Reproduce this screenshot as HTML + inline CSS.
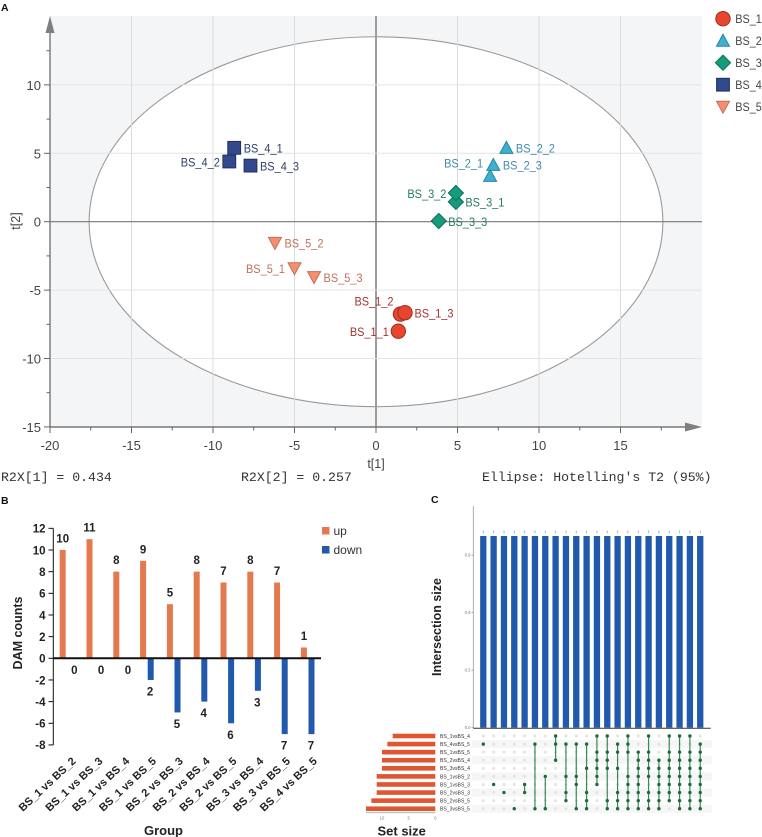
<!DOCTYPE html>
<html lang="en">
<head>
<meta charset="utf-8">
<title>PCA score plot, DAM counts and UpSet plot</title>
<style>
html,body{margin:0;padding:0;background:#fff;}
body{width:762px;height:837px;overflow:hidden;}
svg{display:block;font-family:"Liberation Sans",sans-serif;}
</style>
</head>
<body>
<svg id="figure" xmlns="http://www.w3.org/2000/svg" width="762" height="837" viewBox="0 0 762 837">
  <rect width="762" height="837" fill="#fff"/>
  <g id="panelA"></g>
  <g id="panelB"></g>
  <g id="panelC"></g>
  <text x="1" y="11" font-size="10.5" font-weight="bold" fill="#111">A</text>
  <text x="1" y="504" font-size="10.5" font-weight="bold" fill="#111">B</text>
  <text x="431" y="503" font-size="10.5" font-weight="bold" fill="#111">C</text>
  <text x="1" y="481" font-size="13.2" font-family="'Liberation Mono',monospace" fill="#333">R2X[1] = 0.434</text>
  <text x="241" y="481" font-size="13.2" font-family="'Liberation Mono',monospace" fill="#333">R2X[2] = 0.257</text>
  <text x="482" y="481" font-size="13.2" font-family="'Liberation Mono',monospace" fill="#333">Ellipse: Hotelling's T2 (95%)</text>
</svg>
<script>
/* ---------- Panel A data ---------- */
const pcaGroups = ['BS_1', 'BS_2', 'BS_3', 'BS_4', 'BS_5'];
const pcaSamples = ['BS_1_1', 'BS_1_2', 'BS_1_3', 'BS_2_1', 'BS_2_2', 'BS_2_3', 'BS_3_1', 'BS_3_2', 'BS_3_3', 'BS_4_2', 'BS_4_1', 'BS_4_3', 'BS_5_1', 'BS_5_2', 'BS_5_3'];
const pcaSampleGroup = [0, 0, 0, 1, 1, 1, 2, 2, 2, 3, 3, 3, 4, 4, 4];
const pcaT1 = [1.37, 1.5, 1.78, 7.0, 8.0, 7.2, 4.9, 4.9, 3.85, -9.0, -8.7, -7.7, -5.0, -6.2, -3.8];
const pcaT2 = [-8.0, -6.75, -6.65, 3.35, 5.4, 4.15, 1.45, 2.1, 0.05, 4.4, 5.4, 4.1, -3.4, -1.55, -4.05];
const pcaLabelSide = ['left', 'upper-left', 'right', 'upper-left', 'right', 'right', 'right', 'left', 'right', 'left', 'right', 'right', 'left', 'right', 'right'];
const pcaXTicks = [-20, -15, -10, -5, 0, 5, 10, 15];
const pcaYTicks = [-15, -10, -5, 0, 5, 10];
const pcaXMinorTicks = [-17.5, -12.5, -7.5, -2.5, 2.5, 7.5, 12.5, 17.5];
const pcaYMinorTicks = [-12.5, -7.5, -2.5, 2.5, 7.5, 12.5];
const ellipseRadiusT1 = 17.6;
const ellipseRadiusT2 = 13.52;

/* ---------- Panel B data ---------- */
const damGroups = ['BS_1 vs BS_2', 'BS_1 vs BS_3', 'BS_1 vs BS_4', 'BS_1 vs BS_5', 'BS_2 vs BS_3', 'BS_2 vs BS_4', 'BS_2 vs BS_5', 'BS_3 vs BS_4', 'BS_3 vs BS_5', 'BS_4 vs BS_5'];
const damUp = [10, 11, 8, 9, 5, 8, 7, 8, 7, 1];
const damDown = [0, 0, 0, 2, 5, 4, 6, 3, 7, 7];
const damTicks = [12, 10, 8, 6, 4, 2, 0, -2, -4, -6, -8];

/* ---------- Panel C data ---------- */
const setNames = ['BS_1vsBS_4', 'BS_4vsBS_5', 'BS_1vsBS_5', 'BS_2vsBS_4', 'BS_3vsBS_4', 'BS_1vsBS_2', 'BS_1vsBS_3', 'BS_2vsBS_3', 'BS_2vsBS_5', 'BS_3vsBS_5'];
const setSizes = [8, 9, 10, 10, 10, 11, 11, 11, 12, 13];
const setTicks = [10, 5, 0];
const intersectionSizes = [1, 1, 1, 1, 1, 1, 1, 1, 1, 1, 1, 1, 1, 1, 1, 1, 1, 1, 1, 1, 1, 1];
const intersectionTicks = [0, 0.3, 0.6, 0.9];
const intersectionMembers = [
  [1], [6], [7], [9], [6, 7], [1, 9], [5, 9], [0, 1, 3],
  [1, 5, 7, 8], [1, 5, 6, 9], [1, 4, 7, 8, 9], [0, 2, 3, 4, 5, 6],
  [0, 2, 3, 4, 8, 9], [1, 2, 4, 7, 8, 9], [0, 1, 2, 5, 6, 7, 8, 9],
  [2, 3, 4, 5, 6, 7, 8, 9], [0, 2, 3, 4, 5, 7, 8, 9], [3, 4, 5, 6, 7, 8, 9],
  [0, 2, 3, 4, 5, 6, 7, 8], [0, 2, 3, 4, 5, 6, 7, 8, 9],
  [0, 2, 3, 4, 5, 6, 7, 8, 9], [1, 2, 3, 4, 5, 6, 7, 8, 9]
];

/* ---------- helpers ---------- */
const NS = 'http://www.w3.org/2000/svg';
function mk(parent, tag, attrs, text) {
  const node = document.createElementNS(NS, tag);
  for (const key in attrs) node.setAttribute(key, attrs[key]);
  if (text !== undefined) node.textContent = text;
  parent.appendChild(node);
  return node;
}
const panelA = document.getElementById('panelA');
const panelB = document.getElementById('panelB');
const panelC = document.getElementById('panelC');

/* ---------- Panel A ---------- */
const ax = v => 376 + 16.3 * v;
const ay = v => 221.7 - 13.68 * v;
const groupFill = ['#e8452f', '#3ab1cf', '#169b7c', '#33498c', '#f58f70'];
const groupStroke = ['#9c2f1f', '#2b84a3', '#0f6f58', '#1f2f66', '#c46d55'];
const groupText = ['#a5322c', '#3f8cab', '#1f7a60', '#2e3d6b', '#c2705a'];

function marker(parent, group, x, y) {
  const attrs = { fill: groupFill[group], stroke: groupStroke[group], 'stroke-width': 1 };
  if (group === 0) {
    attrs.cx = x; attrs.cy = y; attrs.r = 7.2;
    return mk(parent, 'circle', attrs);
  }
  if (group === 3) {
    attrs.x = x - 6.4; attrs.y = y - 6.4; attrs.width = 12.8; attrs.height = 12.8;
    return mk(parent, 'rect', attrs);
  }
  let points;
  if (group === 1) points = [[x, y - 6.5], [x + 6.5, y + 5.5], [x - 6.5, y + 5.5]];
  if (group === 2) points = [[x, y - 7.6], [x + 7.6, y], [x, y + 7.6], [x - 7.6, y]];
  if (group === 4) points = [[x - 6.5, y - 5.5], [x + 6.5, y - 5.5], [x, y + 6.5]];
  attrs.points = points.map(p => p.join(',')).join(' ');
  return mk(parent, 'polygon', attrs);
}

const plotBg = mk(panelA, 'rect', { x: 50, y: 16, width: 652, height: 411, fill: '#f4f5f7' });



const ellipse = mk(panelA, 'ellipse', { cx: ax(0), cy: ay(0), rx: ellipseRadiusT1 * 16.3, ry: ellipseRadiusT2 * 13.68, fill: '#fff', stroke: '#9a9a9a', 'stroke-width': 1.1 });



pcaXTicks.forEach(v => {
  if (v === -20) return;
  const zero = v === 0;
  const line = mk(panelA, 'line', { x1: ax(v), x2: ax(v), y1: 16, y2: 427, stroke: zero ? '#9d9d9d' : '#dcdcdc', 'stroke-width': zero ? 2 : 1 });
  
  
});
pcaYTicks.forEach(v => {
  if (v === -15) return;
  const zero = v === 0;
  const line = mk(panelA, 'line', { x1: 50, x2: 702, y1: ay(v), y2: ay(v), stroke: zero ? '#777' : '#e4e4e4', 'stroke-width': zero ? 1.2 : 1 });
  
  
});

const yAxisA = mk(panelA, 'line', { x1: 50, x2: 50, y1: 20, y2: 427, stroke: '#777', 'stroke-width': 1.4 });


const xAxisA = mk(panelA, 'line', { x1: 50, x2: 690, y1: 427, y2: 427, stroke: '#777', 'stroke-width': 1.4 });


const yArrow = mk(panelA, 'polygon', { points: '50,16 45.5,33 54.5,33', fill: '#7f7f7f' });


const xArrow = mk(panelA, 'polygon', { points: '702,427 685,422.5 685,431.5', fill: '#7f7f7f' });



pcaXTicks.forEach(v => {
  const tick = mk(panelA, 'line', { x1: ax(v), x2: ax(v), y1: 427, y2: 433, stroke: '#666', 'stroke-width': 1 });
  
  
  const label = mk(panelA, 'text', { x: ax(v), y: 450, 'text-anchor': 'middle', 'font-size': 13, fill: '#444' }, String(v));
  
  
});
pcaXMinorTicks.forEach(v => {
  const tick = mk(panelA, 'line', { x1: ax(v), x2: ax(v), y1: 427, y2: 430.5, stroke: '#666', 'stroke-width': 1 });
  
  
});
pcaYTicks.forEach(v => {
  const tick = mk(panelA, 'line', { x1: 44, x2: 50, y1: ay(v), y2: ay(v), stroke: '#666', 'stroke-width': 1 });
  
  
  const label = mk(panelA, 'text', { x: 41, y: ay(v) + 5, 'text-anchor': 'end', 'font-size': 13, fill: '#444' }, String(v));
  
  
});
pcaYMinorTicks.forEach(v => {
  const tick = mk(panelA, 'line', { x1: 46.5, x2: 50, y1: ay(v), y2: ay(v), stroke: '#666', 'stroke-width': 1 });
  
  
});

const t2Title = mk(panelA, 'text', { transform: 'translate(20,221) rotate(-90)', 'text-anchor': 'middle', 'font-size': 12.5, fill: '#444' }, 't[2]');


const t1Title = mk(panelA, 'text', { x: 376, y: 468, 'text-anchor': 'middle', 'font-size': 12.5, fill: '#444' }, 't[1]');



pcaSamples.forEach((name, i) => {
  const g = pcaSampleGroup[i];
  const px = ax(pcaT1[i]);
  const py = ay(pcaT2[i]);
  const mark = marker(panelA, g, px, py);
  
  
  const side = pcaLabelSide[i];
  const attrs = { 'font-size': 12, fill: groupText[g], textLength: 39, lengthAdjust: 'spacingAndGlyphs' };
  attrs.x = side === 'right' ? px + 9.5 : px - 48.5;
  attrs.y = py + 4.8;
  if (side === 'upper-left') { attrs.x = px - 46; attrs.y = py - 8.5; }
  const label = mk(panelA, 'text', attrs, name);
  
  
});

pcaGroups.forEach((name, g) => {
  const ly = 18.7 + 22 * g;
  const mark = marker(panelA, g, 723, ly);
  
  
  const label = mk(panelA, 'text', { x: 735.3, y: ly + 4.5, 'font-size': 12, fill: '#444', textLength: 26.5, lengthAdjust: 'spacingAndGlyphs' }, name);
  
  
});

/* ---------- Panel B ---------- */
const by = v => 658.3 - 10.83 * v;
const bx = i => 66.5 + 26.8 * i;
const upColor = '#e2794f';
const downColor = '#2159ad';
const barW = 6;

const yAxisB = mk(panelB, 'line', { x1: 53.3, x2: 53.3, y1: by(12), y2: by(-8), stroke: '#111', 'stroke-width': 1 });



damTicks.forEach(v => {
  const tick = mk(panelB, 'line', { x1: 48.5, x2: 53.3, y1: by(v), y2: by(v), stroke: '#111', 'stroke-width': 1 });
  
  
  const label = mk(panelB, 'text', { x: 45.5, y: by(v) + 4.3, 'text-anchor': 'end', 'font-size': 11.5, 'font-weight': 'bold', fill: '#222' }, String(v));
  
  
});

damGroups.forEach((name, i) => {
  const upX = bx(i) - 3.8;
  const downX = bx(i) + 3.8;
  const up = mk(panelB, 'rect', { x: upX - barW / 2, y: by(damUp[i]), width: barW, height: by(0) - by(damUp[i]), fill: upColor });
  
  
  const down = mk(panelB, 'rect', { x: downX - barW / 2, y: by(0), width: barW, height: by(-damDown[i]) - by(0), fill: downColor });
  
  

  const upLabel = mk(panelB, 'text', { x: upX, y: by(damUp[i]) - 7.5, 'text-anchor': 'middle', 'font-size': 11.5, 'font-weight': 'bold', fill: '#222' }, String(damUp[i]));
  
  
  const downLabel = mk(panelB, 'text', { x: downX + (damDown[i] === 0 ? 4 : -0.6), y: by(-damDown[i]) + 15.5, 'text-anchor': 'middle', 'font-size': 11.5, 'font-weight': 'bold', fill: '#222' }, String(damDown[i]));
  
  

  const gx = bx(i) + 10;
  const groupLabel = mk(panelB, 'text', { transform: 'translate(' + gx + ',762) rotate(-43)', 'text-anchor': 'end', 'font-size': 11, 'font-weight': 'bold', fill: '#222' }, name);
  
  
});

const zeroLine = mk(panelB, 'line', { x1: 53.3, x2: 321, y1: by(0), y2: by(0), stroke: '#111', 'stroke-width': 2 });



const damYTitle = mk(panelB, 'text', { transform: 'translate(22,633) rotate(-90)', 'text-anchor': 'middle', 'font-size': 12.5, 'font-weight': 'bold', fill: '#222' }, 'DAM counts');


const damXTitle = mk(panelB, 'text', { x: 163.5, y: 835, 'text-anchor': 'middle', 'font-size': 13, 'font-weight': 'bold', fill: '#222' }, 'Group');



const upSwatch = mk(panelB, 'rect', { x: 322, y: 527, width: 7.5, height: 7.5, fill: upColor });


const upText = mk(panelB, 'text', { x: 333.5, y: 535, 'font-size': 12, fill: '#333' }, 'up');


const downSwatch = mk(panelB, 'rect', { x: 322, y: 546, width: 7.5, height: 7.5, fill: downColor });


const downText = mk(panelB, 'text', { x: 333.5, y: 554, 'font-size': 12, fill: '#333' }, 'down');



/* ---------- Panel C ---------- */
const cy = v => 727.7 - 191.7 * v;
const cx = i => 483.3 + 10.33 * i;
const rowY = r => 736 + 8.08 * r;
const sizeX = v => 435.3 - 5.33 * v;

const yAxisC = mk(panelC, 'line', { x1: 473.3, x2: 473.3, y1: 506, y2: 728.3, stroke: '#999', 'stroke-width': 0.8 });



intersectionTicks.forEach(v => {
  const tick = mk(panelC, 'line', { x1: 471.5, x2: 473.3, y1: cy(v), y2: cy(v), stroke: '#777', 'stroke-width': 0.6 });
  
  
  const label = mk(panelC, 'text', { x: 470.5, y: cy(v) + 1.5, 'text-anchor': 'end', 'font-size': 4.2, fill: '#777' }, v.toFixed(1));
  
  
});

intersectionSizes.forEach((v, i) => {
  const bar = mk(panelC, 'rect', { x: cx(i) - 3.15, y: cy(v), width: 6.3, height: cy(0) - cy(v), fill: '#2159ad' });
  
  
  const label = mk(panelC, 'text', { x: cx(i), y: cy(v) - 3, 'text-anchor': 'middle', 'font-size': 4, fill: '#3f74c0' }, String(v));
  
  
});

const xAxisC = mk(panelC, 'line', { x1: 473.3, x2: 710.7, y1: 728.3, y2: 728.3, stroke: '#333', 'stroke-width': 1 });



const intersectionTitle = mk(panelC, 'text', { transform: 'translate(441,627) rotate(-90)', 'text-anchor': 'middle', 'font-size': 12.5, 'font-weight': 'bold', fill: '#222' }, 'Intersection size');



setNames.forEach((name, r) => {
  if (r % 2 === 1) {
    const stripe = mk(panelC, 'rect', { x: 472, y: rowY(r) - 4, width: 240, height: 8, fill: '#f6f6f6' });
    
    
  }
  const bar = mk(panelC, 'rect', { x: sizeX(setSizes[r]), y: rowY(r) - 2.3, width: sizeX(0) - sizeX(setSizes[r]), height: 4.6, fill: '#e0562f' });
  
  
  const label = mk(panelC, 'text', { x: 440, y: rowY(r) + 1.9, 'font-size': 5.1, fill: '#333' }, name);
  
  
  intersectionSizes.forEach((_, i) => {
    const dot = mk(panelC, 'circle', { cx: cx(i), cy: rowY(r), r: 1.5, fill: '#e3e3e3' });
    
    
  });
});

intersectionMembers.forEach((rows, i) => {
  const first = Math.min.apply(null, rows);
  const last = Math.max.apply(null, rows);
  if (first !== last) {
    const link = mk(panelC, 'line', { x1: cx(i), x2: cx(i), y1: rowY(first), y2: rowY(last), stroke: '#3b8a55', 'stroke-width': 1.2 });
    
    
  }
  rows.forEach(r => {
    const dot = mk(panelC, 'circle', { cx: cx(i), cy: rowY(r), r: 1.7, fill: '#1a6b38' });
    
    
  });
});

const setAxis = mk(panelC, 'line', { x1: 366, x2: 435.3, y1: 812.7, y2: 812.7, stroke: '#aaa', 'stroke-width': 0.8 });


setTicks.forEach(v => {
  const label = mk(panelC, 'text', { x: sizeX(v), y: 819.5, 'text-anchor': 'middle', 'font-size': 4.2, fill: '#777' }, String(v));
  
  
});
const setTitle = mk(panelC, 'text', { x: 401.7, y: 835.5, 'text-anchor': 'middle', 'font-size': 13, 'font-weight': 'bold', fill: '#222' }, 'Set size');


</script>
</body>
</html>
